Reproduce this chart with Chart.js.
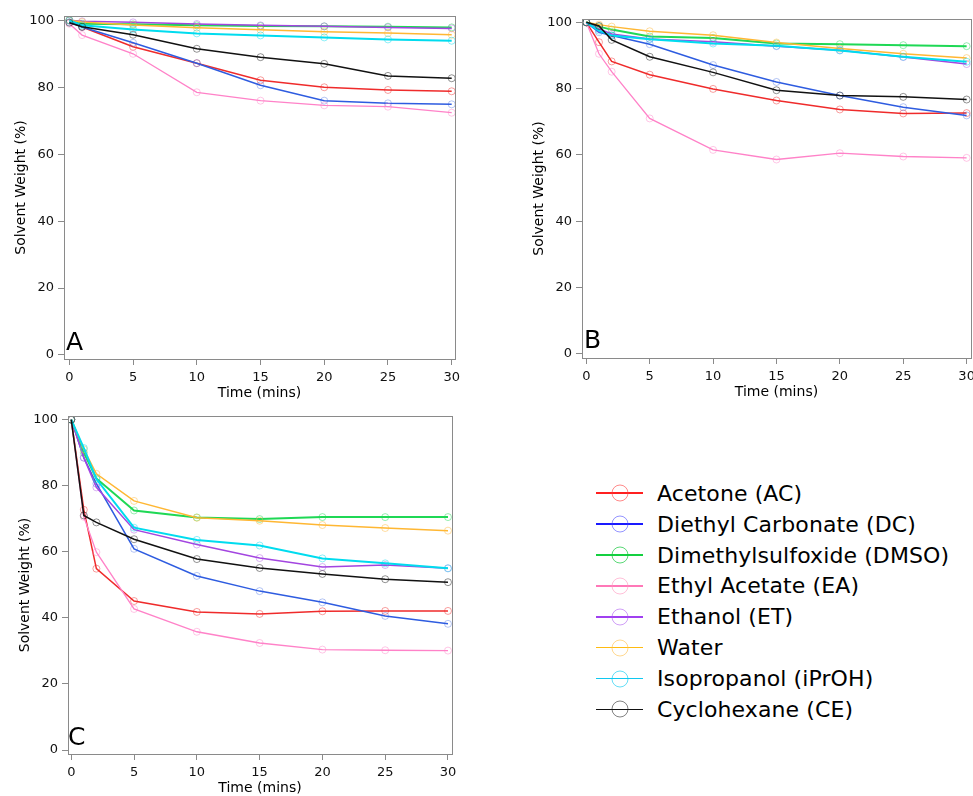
<!DOCTYPE html>
<html>
<head>
<meta charset="utf-8">
<script src="https://cdn.jsdelivr.net/npm/chart.js@4.4.0/dist/chart.umd.min.js"></script>
<style>
  html, body { margin: 0; padding: 0; background: #fff; overflow: hidden; }
  body { width: 973px; height: 796px; position: relative; font-family: 'DejaVu Sans', sans-serif; }
  .panel { position: absolute; }
  .letter { position: absolute; font-size: 25px; line-height: 1; color: #000; }
  #legend { position: absolute; left: 596px; top: 477.8px; }
  .row { position: relative; height: 30.9px; display: flex; align-items: center; }
  .sw { position: relative; width: 47px; height: 1.5px; margin-right: 14px; }
  .sw span { position: absolute; left: 24px; top: 50%; width: 17px; height: 17px; box-sizing: border-box;
             border-radius: 50%; border: 1.2px solid; transform: translate(-50%, -50%); }
  .lab { font-size: 22px; color: #000; letter-spacing: 0.1px; white-space: nowrap; }
</style>
</head>
<body>
<div class="panel" style="left:0;top:0;width:470px;height:402px"><canvas id="chartA"></canvas></div>
<div class="panel" style="left:500px;top:0;width:480px;height:401px"><canvas id="chartB"></canvas></div>
<div class="panel" style="left:0;top:400px;width:470px;height:397px"><canvas id="chartC"></canvas></div>
<div class="letter" style="left:66px;top:329px">A</div>
<div class="letter" style="left:584px;top:327px">B</div>
<div class="letter" style="left:68px;top:724px">C</div>
<div id="legend"></div>

<script>
// time points (mins)
var timesA = [0, 1, 5, 10, 15, 20, 25, 30];
var timesBC = [0, 1, 2, 5, 10, 15, 20, 25, 30];
var xTicks = [0, 5, 10, 15, 20, 25, 30];
var yTicks = [0, 20, 40, 60, 80, 100];

var solvents = ['Acetone (AC)', 'Diethyl Carbonate (DC)', 'Dimethylsulfoxide (DMSO)', 'Ethyl Acetate (EA)',
                'Ethanol (ET)', 'Water', 'Isopropanol (iPrOH)', 'Cyclohexane (CE)'];

// solvent weight (%) - rows follow the solvents order
var panelA = [
    [100, 98, 92.1, 87.2, 82.1, 80, 79.2, 78.8],
    [99.5, 98, 93.3, 87.2, 80.6, 76, 75.2, 74.9],
    [100, 99, 98.8, 98.5, 98.3, 98.2, 98.1, 97.9],
    [99, 95.6, 90, 78.5, 76, 74.6, 74.2, 72.4],
    [100, 99.7, 99.4, 98.9, 98.5, 98.2, 97.9, 97.6],
    [100, 99.5, 98.6, 97.8, 97.2, 96.6, 96.2, 95.7],
    [100, 98.5, 97.3, 96.1, 95.5, 94.9, 94.3, 93.9],
    [99.3, 98.1, 95.7, 91.5, 89, 87, 83.4, 82.7]
];
var panelB = [
    [100, 94, 88.2, 84.2, 79.9, 76.4, 73.7, 72.5, 72.6],
    [100, 97, 96, 93.4, 87.1, 82, 77.9, 74.4, 71.9],
    [100, 98.7, 97.8, 95.7, 95.3, 93.6, 93.4, 93.1, 92.8],
    [100, 90.5, 85.1, 71, 61.5, 58.6, 60.5, 59.5, 59.1],
    [100, 98, 96.5, 95, 94.1, 92.8, 91.6, 89.5, 87.4],
    [100, 99.3, 98.7, 97.3, 96.1, 93.9, 92.1, 90.5, 89.2],
    [100, 97.5, 96, 94.9, 93.6, 92.9, 91.5, 89.6, 88.1],
    [100, 98.9, 94.7, 89.6, 84.9, 79.5, 77.9, 77.5, 76.7]
];
var panelC = [
    [100, 72.7, 54.9, 45.1, 41.8, 41.2, 42, 42.1, 42.1],
    [100, 88.5, 80.6, 60.9, 52.7, 48.1, 44.7, 40.6, 38.2],
    [100, 90, 82.2, 72.5, 70.4, 69.9, 70.5, 70.5, 70.5],
    [100, 70.6, 59.9, 42.7, 35.8, 32.4, 30.4, 30.2, 30.1],
    [100, 88.5, 79.5, 66.7, 62.2, 58.1, 55.4, 56, 55],
    [100, 91, 83.6, 75.4, 70.3, 69.4, 68.1, 67.2, 66.4],
    [100, 91.4, 82, 67.3, 63.6, 61.9, 58, 56.5, 55],
    [100, 71, 68.9, 63.8, 57.8, 55.1, 53.3, 51.7, 50.8]
];

var color = ['#ef2b2b', '#2e5ce0', '#1fd855', '#ff82c8', '#a345e0', '#ffb733', '#00dcef', '#111111'];
var mark = ['rgba(239,43,43,0.45)', 'rgba(46,92,224,0.35)', 'rgba(31,216,85,0.45)', 'rgba(255,130,200,0.45)',
            'rgba(163,69,224,0.4)', 'rgba(255,187,68,0.5)', 'rgba(0,220,239,0.45)', 'rgba(17,17,17,0.45)'];
var legendMark = ['rgba(255,60,60,0.6)', 'rgba(60,60,255,0.55)', 'rgba(20,200,60,0.7)', 'rgba(255,150,190,0.6)',
                  'rgba(170,80,240,0.55)', 'rgba(255,190,70,0.6)', 'rgba(0,200,240,0.6)', 'rgba(30,30,30,0.55)'];
var legendLine = ['#ff2020', '#1a1aff', '#14d040', '#ff78b8', '#a040f0', '#ffbb11', '#10c8f0', '#111111'];
var widths = [1.5, 1.5, 2, 1.3, 1.5, 1.5, 2, 1.5];

var tickFont = { family: 'DejaVu Sans', size: 13 };
var titleFont = { family: 'DejaVu Sans', size: 14 };

var boxPlugin = {
    id: 'box',
    afterDraw: function (chart) {
        var a = chart.chartArea, ctx = chart.ctx;
        ctx.save();
        ctx.strokeStyle = '#8a8a8a';
        ctx.lineWidth = 1;
        ctx.strokeRect(Math.round(a.left) + 0.5, Math.round(a.top) + 0.5,
                       Math.round(a.right - a.left), Math.round(a.bottom - a.top));
        ctx.restore();
    }
};

function makePanel(id, times, rows, xr, yr, pad) {
    var datasets = [];
    for (var i = 0; i < rows.length; i++) {
        var pts = [];
        for (var j = 0; j < times.length; j++) {
            pts.push({ x: times[j], y: rows[i][j] });
        }
        datasets.push({
            label: solvents[i],
            data: pts,
            borderColor: color[i],
            borderWidth: widths[i],
            pointRadius: 3.5,
            pointBorderWidth: 1,
            pointBorderColor: mark[i],
            pointBackgroundColor: 'rgba(0,0,0,0)',
            fill: false,
            tension: 0,
            order: rows.length - i
        });
    }

    new Chart(document.getElementById(id), {
        type: 'line',
        data: { datasets: datasets },
        plugins: [boxPlugin],
        options: {
            responsive: true,
            maintainAspectRatio: false,
            animation: false,
            layout: { padding: pad },
            plugins: { legend: { display: false }, tooltip: { enabled: false } },
            scales: {
                x: {
                    type: 'linear',
                    min: xr[0], max: xr[1],
                    afterBuildTicks: function (s) { s.ticks = xTicks.map(function (v) { return { value: v }; }); },
                    afterFit: function (s) { s.height = 43; },
                    grid: { display: true, drawOnChartArea: false, drawTicks: true, tickLength: 6, tickColor: '#8a8a8a', color: '#8a8a8a' },
                    border: { display: true, color: '#8a8a8a', width: 1 },
                    ticks: { font: tickFont, color: '#111', padding: 5, maxRotation: 0, autoSkip: false },
                    title: { display: true, text: 'Time (mins)', font: titleFont, color: '#000', padding: 0 }
                },
                y: {
                    min: yr[0], max: yr[1],
                    afterBuildTicks: function (s) { s.ticks = yTicks.map(function (v) { return { value: v }; }); },
                    afterFit: function (s) { s.width = 64; },
                    grid: { display: true, drawOnChartArea: false, drawTicks: true, tickLength: 6, tickColor: '#8a8a8a', color: '#8a8a8a' },
                    border: { display: true, color: '#8a8a8a', width: 1 },
                    ticks: { font: tickFont, color: '#111', padding: 4, autoSkip: false },
                    title: { display: true, text: 'Solvent Weight (%)', font: titleFont, color: '#000', padding: { top: 12.5, bottom: 0 } }
                }
            }
        }
    });
}

makePanel('chartA', timesA, panelA, [-0.42, 30.26], [-1.2, 101.3], { top: 16, right: 15, left: 0, bottom: 0 });
makePanel('chartB', timesBC, panelB, [-0.34, 30.34], [-1.3, 101.0], { top: 19, right: 9, left: 18, bottom: 0 });
makePanel('chartC', timesBC, panelC, [-0.26, 30.32], [-1.2, 101.1], { top: 16, right: 18, left: 4, bottom: 0 });

// legend
var leg = document.getElementById('legend');
for (var k = 0; k < solvents.length; k++) {
    var row = document.createElement('div');
    row.className = 'row';
    row.innerHTML = '<div class="sw" style="background:' + legendLine[k] + '"><span style="border-color:' + legendMark[k] + '"></span></div>' +
                    '<div class="lab">' + solvents[k] + '</div>';
    leg.appendChild(row);
}
</script>
</body>
</html>
